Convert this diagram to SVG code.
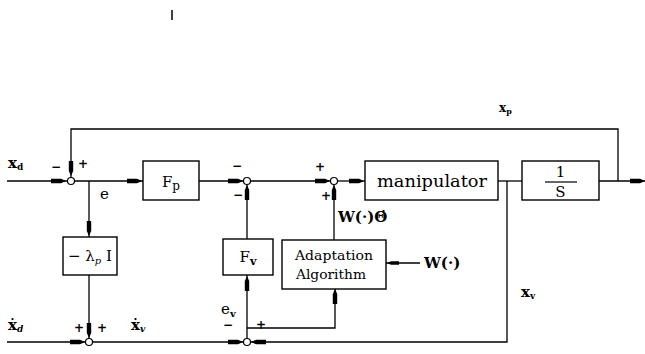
<svg xmlns="http://www.w3.org/2000/svg" width="645" height="354" viewBox="0 0 645 354">
<style>
.ln{stroke:#000;stroke-width:1.3;fill:none}
.bx{stroke:#000;stroke-width:1.4;fill:#fff}
.jn{stroke:#000;stroke-width:1.2;fill:#fff}
text{font-family:"DejaVu Serif","Liberation Serif",serif;fill:#000}
.b{font-weight:bold}
.s{font-size:12px}
.m{font-size:15px}
.l{font-size:17px}
</style>
<defs>
<path id="ah" d="M-15,-2.2 L-5,-2.2 L0,0 L-5,2.2 L-15,2.2 Z" fill="#000"/>
</defs>
<rect width="645" height="354" fill="#fff"/>
<line x1="172" y1="10" x2="172" y2="20" stroke="#000" stroke-width="1.5"/>
<g id="connectors">
<path class="ln" d="M7,181 H67.5"/>
<path class="ln" d="M618,181 V129 H71 V177.5"/>
<path class="ln" d="M74.5,181 H143"/>
<path class="ln" d="M199,181 H243.5"/>
<path class="ln" d="M250.5,181 H330.5"/>
<path class="ln" d="M337.5,181 H365"/>
<path class="ln" d="M498,181 H522"/>
<path class="ln" d="M599,181 H645"/>
<path class="ln" d="M89,181 V237"/>
<path class="ln" d="M89,275 V338.5"/>
<path class="ln" d="M7,342 H85.5"/>
<path class="ln" d="M92.5,342 H243.5"/>
<path class="ln" d="M507,181 V342 H250.5"/>
<path class="ln" d="M247,338.5 V275"/>
<path class="ln" d="M247,239 V184.5"/>
<path class="ln" d="M247,328 H335 V289"/>
<path class="ln" d="M334,240 V184.5"/>
<path class="ln" d="M420,263 H386"/>
<use href="#ah" transform="translate(66,181)"/>
<use href="#ah" transform="translate(71,176) rotate(90)"/>
<use href="#ah" transform="translate(142,181)"/>
<use href="#ah" transform="translate(243,181)"/>
<use href="#ah" transform="translate(330,181)"/>
<use href="#ah" transform="translate(364,181)"/>
<use href="#ah" transform="translate(645,181)"/>
<use href="#ah" transform="translate(89,236) rotate(90)"/>
<use href="#ah" transform="translate(89,338) rotate(90)"/>
<use href="#ah" transform="translate(85,342)"/>
<use href="#ah" transform="translate(243,342)"/>
<use href="#ah" transform="translate(251,342) rotate(180)"/>
<use href="#ah" transform="translate(247,276) rotate(-90)"/>
<use href="#ah" transform="translate(247,185) rotate(-90)"/>
<use href="#ah" transform="translate(335,289) rotate(-90)"/>
<use href="#ah" transform="translate(334,185) rotate(-90)"/>
<use href="#ah" transform="translate(387,263) rotate(180) scale(0.8)"/>
</g>
<g id="sum1"><circle class="jn" cx="71" cy="181" r="3.5"/></g>
<g id="sum2"><circle class="jn" cx="89" cy="342" r="3.5"/></g>
<g id="sum3"><circle class="jn" cx="247" cy="342" r="3.5"/></g>
<g id="sum4"><circle class="jn" cx="247" cy="181" r="3.5"/></g>
<g id="sum5"><circle class="jn" cx="334" cy="181" r="3.5"/></g>
<g id="Fp"><rect class="bx" x="143" y="161" width="56" height="39"/><text class="m" x="171" y="187" text-anchor="middle">F<tspan font-size="12" dy="3">p</tspan></text></g>
<g id="manipulator"><rect class="bx" x="365" y="161" width="133" height="39"/><text class="l" x="377" y="187" textLength="110" lengthAdjust="spacingAndGlyphs">manipulator</text></g>
<g id="integrator"><rect class="bx" x="522" y="161" width="77" height="39"/><text class="m" x="560.5" y="177" text-anchor="middle">1</text><line x1="545" y1="182" x2="577" y2="182" stroke="#000" stroke-width="1.2"/><text class="m" x="560.5" y="197" text-anchor="middle">S</text></g>
<g id="lambda"><rect class="bx" x="63" y="237" width="54" height="38"/><text class="m" x="90" y="261" text-anchor="middle">− λ<tspan font-size="10" font-style="italic" dy="3">p</tspan><tspan dy="-3"> I</tspan></text></g>
<g id="Fv"><rect class="bx" x="223" y="239" width="50" height="36"/><text class="m" x="248" y="262" text-anchor="middle">F<tspan class="b" font-size="11" dy="3">v</tspan></text></g>
<g id="adaptation"><rect class="bx" x="282" y="240" width="104" height="49"/><text font-size="13" x="295" y="260" textLength="78" lengthAdjust="spacingAndGlyphs">Adaptation</text><text font-size="13" x="296" y="279" textLength="70" lengthAdjust="spacingAndGlyphs">Algorithm</text></g>
<g id="labels">
<text class="b m" x="8" y="168">x<tspan font-size="9" dy="2">d</tspan></text>
<text class="b s" x="51" y="171">−</text>
<text class="b s" x="78" y="168">+</text>
<text class="m" x="100" y="199">e</text>
<text class="b s" x="232" y="170">−</text>
<text class="b s" x="233" y="199">−</text>
<text class="b s" x="315" y="171">+</text>
<text class="b s" x="321" y="200">+</text>
<text class="b m" x="338" y="222">W(·)Θ̇</text>
<text class="b s" x="499" y="112">x<tspan font-size="8" dy="2">p</tspan></text>
<text class="b m" x="424" y="268">W(·)</text>
<text class="m" x="221" y="314">e<tspan class="b" font-size="10" dy="3">v</tspan></text>
<text class="b s" x="223" y="329">−</text>
<text class="b s" x="256" y="329">+</text>
<text class="b m" x="8" y="330">ẋ<tspan font-size="9" font-style="italic" dy="2">d</tspan></text>
<text class="b s" x="74" y="332">+</text>
<text class="b s" x="97" y="332">+</text>
<text class="b m" x="131" y="330">ẋ<tspan font-size="9" font-style="italic" dy="2">v</tspan></text>
<text class="b m" x="521" y="297">x<tspan font-size="9" dy="2">v</tspan></text>
</g>
</svg>
